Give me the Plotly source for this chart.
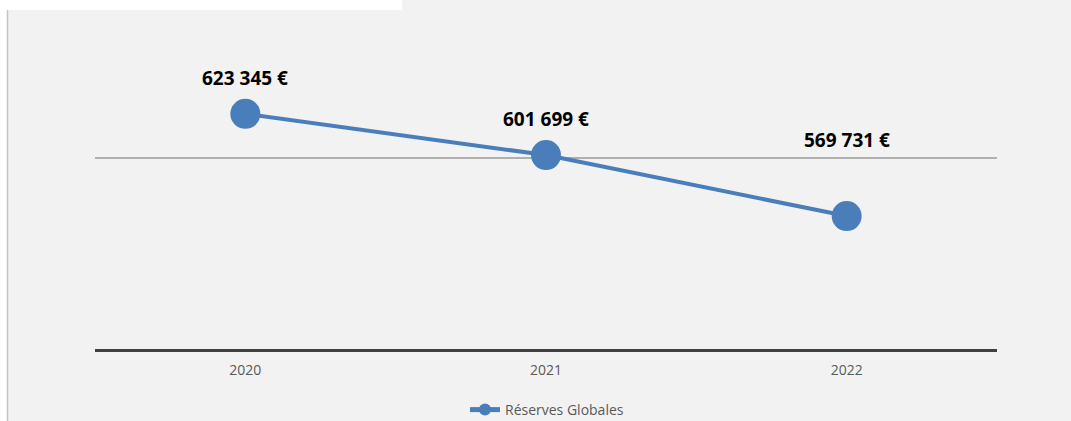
import plotly.graph_objects as go

years = ["2020", "2021", "2022"]
reserves = [623345, 601699, 569731]
label_shift = [36, 36, 76]  # px above each point (last label sits higher in the original)
series_name = "Réserves Globales"

W, H = 1071, 421
L, R, T, B = 95, 74, 63, 72
pw, ph = W - L - R, H - T - B


def px_x(x):
    return (x - L) / pw


def px_y(y):
    return (H - B - y) / ph


blue = "#4a7ebb"
fig = go.Figure(
    go.Scatter(
        x=years,
        y=reserves,
        mode="lines+markers",
        name=series_name,
        line={"color": blue, "width": 4},
        marker={"color": blue, "size": 30},
    )
)

for i, (v, dy) in enumerate(zip(reserves, label_shift)):
    fig.add_annotation(
        x=i,
        y=v,
        xref="x",
        yref="y",
        text="<b>" + f"{v:,}".replace(",", " ") + " €</b>",
        showarrow=False,
        yshift=dy,
        font={"family": "Open Sans", "size": 19, "color": "#000000"},
    )

# white margins left / top-left of the cropped original
fig.add_shape(type="rect", xref="paper", yref="paper", x0=px_x(-5), x1=px_x(7), y0=px_y(H + 5), y1=px_y(-5),
              fillcolor="white", line_width=0, layer="below")
fig.add_shape(type="rect", xref="paper", yref="paper", x0=px_x(-5), x1=px_x(402), y0=px_y(10), y1=px_y(-5),
              fillcolor="white", line_width=0, layer="below")
fig.add_shape(type="line", xref="paper", yref="paper", x0=px_x(7.5), x1=px_x(7.5), y0=px_y(H + 5), y1=px_y(10),
              line={"color": "#c4c4c4", "width": 1.5}, layer="below")

fig.update_xaxes(
    type="category",
    range=[-0.5, 2.5],
    showgrid=False,
    showline=True,
    linecolor="#404040",
    linewidth=3,
    ticks="",
    ticklabelstandoff=6,
    tickfont={"family": "Open Sans", "size": 14, "color": "#595959"},
)
fig.update_yaxes(
    range=[500000, 650000],
    dtick=100000,
    showticklabels=False,
    showgrid=True,
    gridcolor="#b0b0b0",
    gridwidth=2,
    zeroline=False,
)
fig.update_layout(
    width=W,
    height=H,
    autosize=False,
    margin={"l": L, "r": R, "t": T, "b": B},
    paper_bgcolor="#f2f2f2",
    plot_bgcolor="#f2f2f2",
    showlegend=True,
    legend={
        "orientation": "h",
        "xref": "container",
        "yref": "container",
        "x": 547 / W,
        "xanchor": "center",
        "y": (H - 410) / H,
        "yanchor": "middle",
        "font": {"family": "Open Sans", "size": 14, "color": "#595959"},
        "itemsizing": "constant",
        "bgcolor": "rgba(0,0,0,0)",
    },
)

fig.write_html(
    "out.html",
    config={"displayModeBar": False, "responsive": False},
    default_width=f"{W}px",
    default_height=f"{H}px",
    post_script="document.body.style.margin='0';document.body.style.overflow='hidden';",
)
